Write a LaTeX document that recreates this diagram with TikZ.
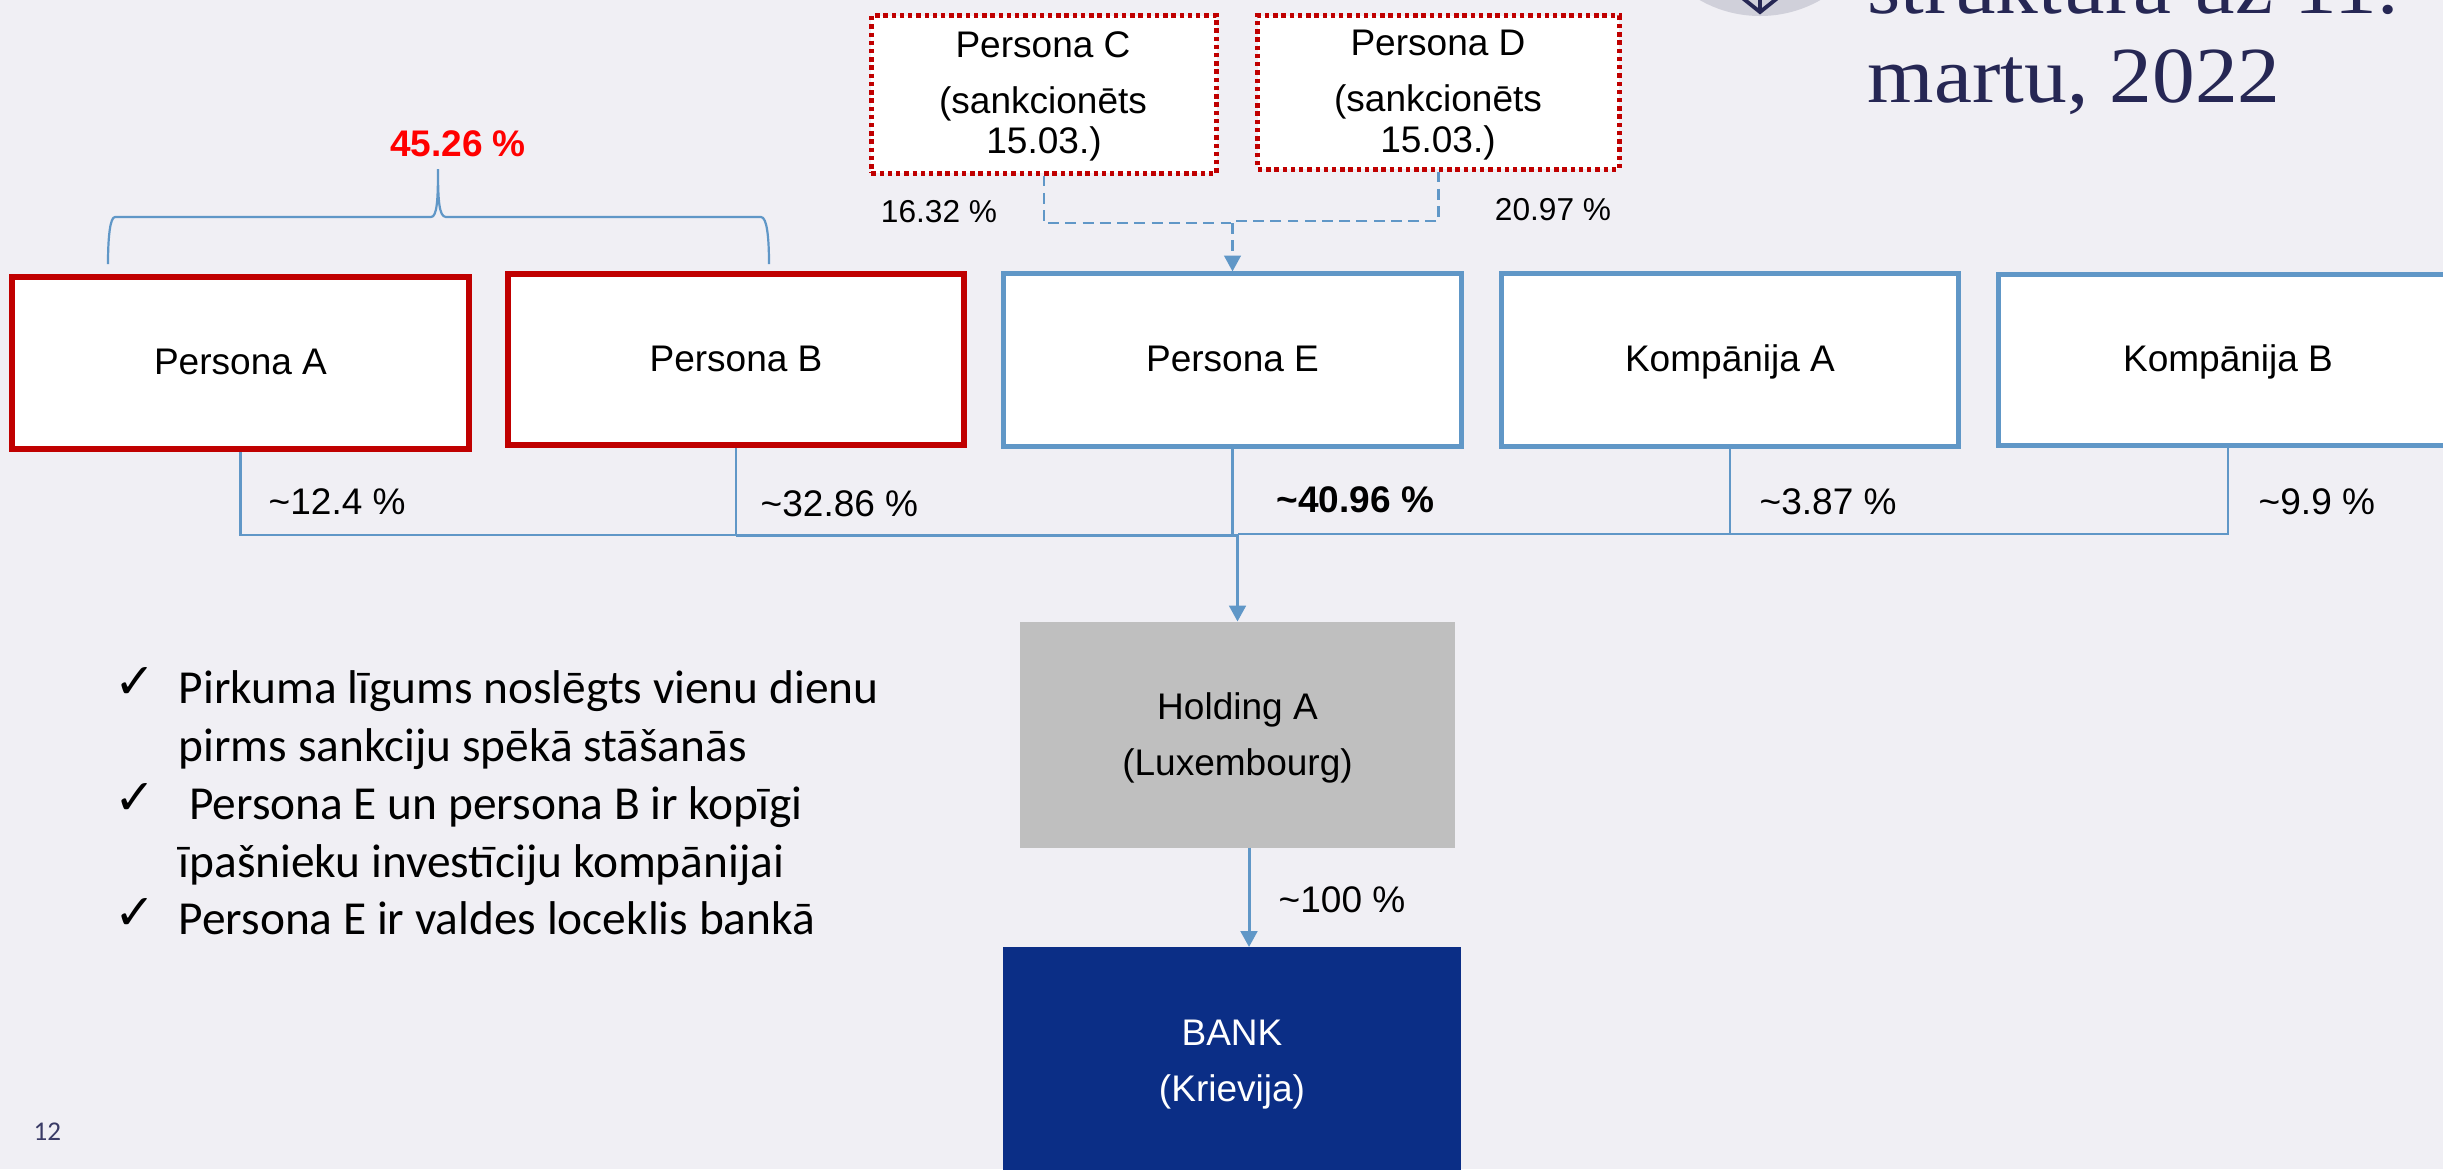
\documentclass[tikz,border=0pt]{standalone}
\usepackage{fontspec}
\usetikzlibrary{arrows.meta}
\setmainfont{Liberation Sans}
\newfontfamily\bulletfont{Carlito}
\newfontfamily\titlefont[FakeStretch=1.075]{Liberation Serif}
\newfontfamily\checkfont{DejaVu Sans}
\definecolor{bgc}{HTML}{F0EFF4}
\definecolor{lineblue}{HTML}{6097C7}
\definecolor{boxred}{HTML}{C00000}
\definecolor{bankblue}{HTML}{0B2E86}
\definecolor{holdgrey}{HTML}{BFBFBF}
\definecolor{titlenavy}{HTML}{262754}
\definecolor{sealgrey}{HTML}{D0D0DA}
\definecolor{pagenum}{HTML}{3A3B66}
\tikzset{
  x=0.01cm,y=-0.01cm,
  box/.style={rectangle,fill=white,align=center,font=\fontsize{10.53}{12.6}\selectfont,inner sep=0pt},
  mainbox/.style={box,text height=7.6pt,text depth=0.8pt},
  redbox/.style={mainbox,draw=boxred,line width=5.5pt*0.2845},
  bluebox/.style={mainbox,draw=lineblue,line width=5pt*0.2845},
  dotbox/.style={box,draw=boxred,line width=5pt*0.2845,dash pattern=on 1.25pt off 1.09pt},
  solidbox/.style={rectangle,align=center,font=\fontsize{10.53}{15.9}\selectfont,inner sep=0pt},
  conn/.style={draw=lineblue,line width=2.2pt*0.2845},
  connthick/.style={draw=lineblue,line width=3pt*0.2845},
  dashconn/.style={draw=lineblue,line width=2.5pt*0.2845,dash pattern=on 3.1pt off 1.8pt},
  tip/.style={-{Triangle[width=4.7pt,length=4.5pt]}},
  pct/.style={anchor=base,inner sep=0pt,font=\fontsize{10.53}{12.6}\selectfont},
  smallpct/.style={anchor=base,inner sep=0pt,font=\fontsize{9}{11}\selectfont},
  bullet/.style={anchor=base west,inner sep=0pt,font=\bulletfont\fontsize{13.47}{15}\selectfont},
  checkm/.style={anchor=base west,inner sep=0pt,font=\checkfont\fontsize{14}{16}\selectfont},
  titleline/.style={anchor=base west,inner sep=0pt,text=titlenavy,font=\titlefont\fontsize{22.6}{26}\selectfont},
}
\begin{document}
\begin{tikzpicture}
\clip (0,0) rectangle (2443,1169);
\fill[bgc] (0,0) rectangle (2443,1169);

% seal and title
\fill[sealgrey] (1760,-106) circle (122);
\draw[titlenavy,line width=1.1pt] (1740,-4) -- (1760,12) -- (1780,-4);
\draw[titlenavy,line width=1.1pt] (1760,-4) -- (1760,12);
\node[titleline] (t1) at (1867,13) {struktūra uz 11.};
\node[titleline] (t2) at (1867,102) {martu, 2022};

% top boxes
\node[dotbox,minimum width=3.45cm,minimum height=1.57cm] (pc) at (1044,94.5) {\vphantom{g}};
\node[dotbox,minimum width=3.61cm,minimum height=1.53cm] (pd) at (1438.5,92.5) {\vphantom{g}};
\node[pct] (pc1) at (1043,57) {Persona C};
\node[pct] (pc2) at (1043,113) {(sankcionēts};
\node[pct] (pc3) at (1044,153) {15.03.)};
\node[pct] (pd1) at (1438,55) {Persona D};
\node[pct] (pd2) at (1438,111) {(sankcionēts};
\node[pct] (pd3) at (1438,152) {15.03.)};

% middle boxes
\node[redbox,minimum width=4.57cm,minimum height=1.72cm] (pa) at (240.5,363) {Persona A};
\node[redbox,minimum width=4.56cm,minimum height=1.71cm] (pb) at (736,359.5) {Persona B};
\node[bluebox,minimum width=4.57cm,minimum height=1.72cm] (pe) at (1232.5,360) {Persona E};
\node[bluebox,minimum width=4.57cm,minimum height=1.72cm] (ka) at (1730,360) {Kompānija A};
\node[bluebox,minimum width=4.58cm,minimum height=1.71cm] (kb) at (2228,360) {Kompānija B};

% lower boxes
\node[solidbox,fill=holdgrey,minimum width=4.345cm,minimum height=2.255cm] (hold) at (1237.5,735) {\rule{0pt}{9.3pt}Holding A\\(Luxembourg)};
\node[solidbox,fill=bankblue,text=white,minimum width=4.58cm,minimum height=2.3cm] (bank) at (1232,1062) {\rule{0pt}{8.7pt}BANK\\(Krievija)};

% owner bus
\coordinate (busmid) at (hold.north |- 0,535);
\coordinate (busr) at (hold.north |- 0,534);
\coordinate (busa) at (pb.south |- 0,535);
\draw[conn] (pa.south) |- (busa);
\draw[conn] (pb.south) -- (busa);
\draw[connthick] (busa) -- (busmid);
\draw[conn] (pe.south) -- (pe.south |- busmid);
\draw[conn] (ka.south) |- (busr);
\draw[conn] (kb.south) |- (busr);
\draw[connthick,tip] (busmid) -- (hold.north);

% holding to bank
\coordinate (hb1) at (1249,847.5);
\coordinate (hb2) at (1249,947);
\draw[connthick,tip] (hb1) -- (hb2);

% dashed owners of E
\coordinate (dashmid) at (pe.north |- 0,223);
\coordinate (dashmidr) at (pe.north |- 0,221);
\draw[dashconn] (pc.south) |- (dashmid);
\draw[dashconn] (pd.south) |- (dashmidr);
\draw[dashconn,tip] (dashmid) -- (pe.north);

% brace
\coordinate (bl) at (108,264);
\coordinate (br) at (769,264);
\coordinate (bt) at (438,169);
\draw[conn] (bl) .. controls (108,238) and (110,217) .. (115,217) -- (431,217)
  .. controls (437,217) and (438,200) .. (bt)
  .. controls (438,200) and (439,217) .. (446,217) -- (761,217)
  .. controls (767,217) and (769,238) .. (br);

% percentages
\node[pct,text=red,font=\bfseries\fontsize{10.53}{12.6}\selectfont] (ptot) at (458,156) {45.26 \%};
\node[smallpct] (p7) at (939,222) {16.32 \%};
\node[smallpct] (p8) at (1553,220) {20.97 \%};
\node[pct,anchor=base west] (p1) at (268,514) {\char`~12.4 \%};
\node[pct,anchor=base west] (p2) at (760,516) {\char`~32.86 \%};
\node[pct,anchor=base west,font=\bfseries\fontsize{10.53}{12.6}\selectfont] (p3) at (1276,512) {\char`~40.96 \%};
\node[pct,anchor=base west] (p4) at (1759,514) {\char`~3.87 \%};
\node[pct,anchor=base west] (p5) at (2258,514) {\char`~9.9 \%};
\node[pct,anchor=base west] (p6) at (1278,912) {\char`~100 \%};

% bullets
\node[checkm] (c1) at (114,698) {✓};
\node[checkm] (c2) at (114,814) {✓};
\node[checkm] (c3) at (114,929) {✓};
\node[bullet] (b1) at (178,703) {Pirkuma līgums noslēgts vienu dienu};
\node[bullet] (b2) at (178,761) {pirms sankciju spēkā stāšanās};
\node[bullet] (b3) at (178,819) {\ Persona E un persona B ir kopīgi};
\node[bullet] (b4) at (178,877) {īpašnieku investīciju kompānijai};
\node[bullet] (b5) at (178,934) {Persona E ir valdes loceklis bankā};

% page number
\node[anchor=base west,inner sep=0pt,text=pagenum,font=\bulletfont\fontsize{7.7}{9}\selectfont] (pg) at (33,1140.5) {12};
\end{tikzpicture}
\end{document}
